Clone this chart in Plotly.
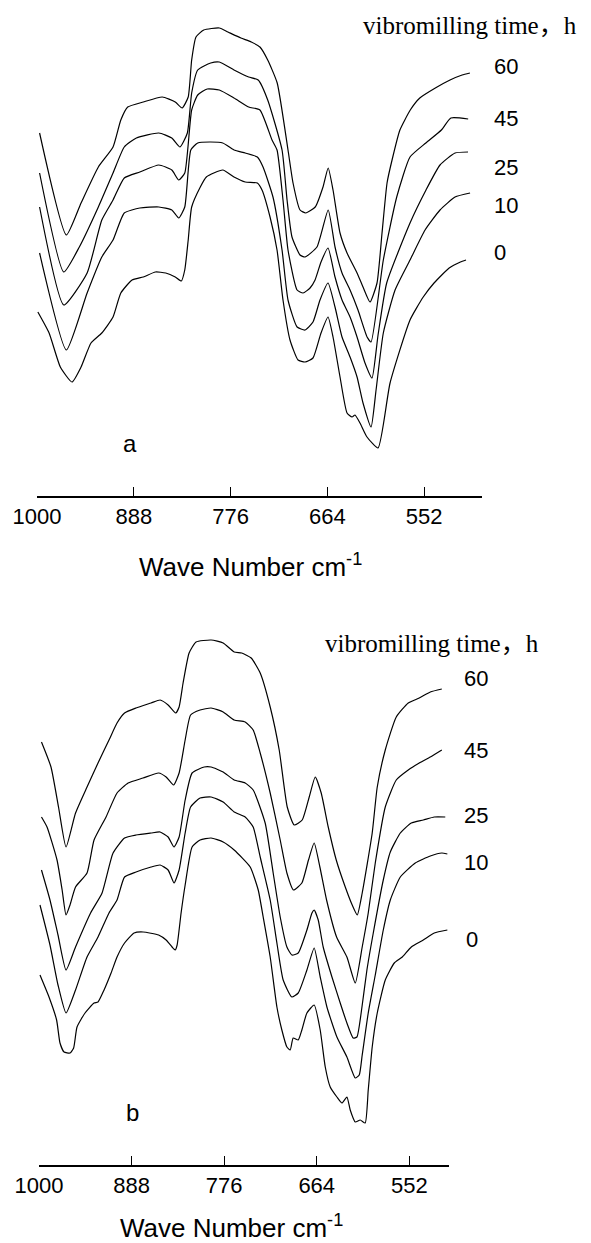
import plotly.graph_objects as go

W, H = 591, 1243

times = ["60", "45", "25", "10", "0"]
tick_vals = [1000, 888, 776, 664, 552]
tick_text = ["1000", "888", "776", "664", "552"]

# ---------------- panel a (transmittance, arbitrary offset units) ----------------
a60_wn = [997, 966, 949, 929, 912, 903, 895, 877, 855, 840, 832, 825, 821, 816, 807, 789, 779, 764, 752, 742,
          733, 722, 709.5, 703.7, 695.6, 689, 678, 669, 663, 657.4, 649.3, 641.2, 629.6, 622.7, 614.6, 606.5,
          600.7, 594.9, 589.1, 580, 568, 557, 539, 522, 508, 499]
a60_t = [363, 261, 293, 329, 349, 376, 389, 394, 399, 394, 388, 399, 436, 459, 466, 468, 464, 458, 454, 449,
         436, 413, 346, 313, 286, 283, 289, 309, 328, 306, 263, 243, 223, 209, 194, 213,
         263, 313, 336, 366, 386, 398, 408, 416, 421, 423]

a45_wn = [997, 969, 951, 929, 912, 899, 885, 859, 844, 834.5, 826, 821, 814, 799, 789, 772, 755, 744, 733, 716.4,
          710.6, 704.9, 695.6, 689.8, 676, 663, 655.1, 647, 637.7, 628.5, 618, 613.4, 599.2, 583.7, 568.3, 550,
          532, 521, 501]
a45_t = [323, 224, 249, 289, 323, 349, 358, 363, 358, 349, 363, 403, 426, 433, 434, 426, 419, 416, 396, 346,
         296, 259, 241, 239, 249, 286, 249, 223, 206, 186, 159, 154, 236, 299, 339, 353,
         366, 378, 377]

a25_wn = [997, 969, 942, 925, 912, 899, 881, 859, 844, 836, 829, 821, 814, 803, 789, 772, 755, 742, 728, 722.2,
          715.3, 709.5, 699, 692.1, 684, 678.2, 671.3, 663.2, 655.1, 647, 637.7, 629.6, 620.4, 612.3, 605.3,
          595.3, 568.3, 549.8, 533.6, 516.2, 501.2]
a25_t = [289, 191, 223, 276, 296, 318, 324, 331, 326, 316, 323, 386, 401, 407, 406, 398, 389, 386, 356, 346,
         296, 246, 206, 203, 208, 216, 234, 248, 219, 196, 179, 159, 133, 118, 161,
         213, 273, 306, 331, 343, 344]

a10_wn = [997, 966, 942, 925, 912, 899, 881, 859, 844, 836, 829, 822, 814, 799, 785, 772, 759, 745, 738.4, 726.9,
          716.4, 709.5, 699, 689.8, 680.6, 672.5, 663.2, 655.1, 647, 637.7, 629.6, 622.7, 613.4, 607.6, 599.2,
          585.6, 568.3, 550.9, 533.6, 516.2, 498.8]
a10_t = [243, 146, 203, 239, 256, 283, 288, 289, 286, 278, 289, 346, 353, 354, 353, 346, 343, 339, 329, 299,
         246, 196, 169, 166, 174, 196, 213, 189, 159, 139, 119, 93, 69, 106, 163,
         206, 236, 266, 286, 299, 303]

a0_wn = [999, 986, 973, 959.5, 949, 937.5, 925, 912, 903, 890, 877, 863, 851, 840, 833, 829, 825, 821, 811, 804,
         785, 772, 759, 745, 739.6, 730.3, 722.2, 715.3, 707.2, 697.9, 689.8, 680.6, 671.3, 663.2, 657.4, 649.3,
         641.2, 635.4, 632, 626.2, 618.1, 605.3, 591.4, 568.3, 553, 540.5, 523, 510, 503.5]
a0_t = [184, 163, 129, 114, 129, 153, 163, 179, 203, 216, 219, 224, 223, 219, 215, 226, 256, 289, 309, 319,
        326, 319, 314, 313, 306, 279, 246, 196, 156, 136, 134, 138, 163, 179, 159, 119,
        83, 79, 81, 73, 59, 48, 113, 176, 199, 213, 228, 234, 236]

# ---------------- panel b ----------------
b60_wn = [997, 985.5, 976.4, 967.3, 955.8, 941.9, 928.6, 915.3, 905.6, 896.5, 882.6, 864.4, 853.5, 843.8, 834.7,
          830.5, 825.7, 818.4, 810, 791.8, 777.2, 763.9, 754.8, 743.3, 732.4, 720.3, 709.4, 699.7, 691.3, 681.6,
          673.1, 665.8, 658.6, 650.1, 640.4, 629.5, 621.1, 615, 609, 596.9, 590.8, 581.1, 567.8, 553.3, 540,
          526.6, 512.7]
b60_t = [423, 398, 358, 318, 352, 378, 402, 425, 442, 452, 457, 462, 465, 460, 452, 458, 482, 512, 523, 525,
         522, 513, 512, 507, 492, 458, 415, 358, 340, 345, 368, 388, 372, 338, 305, 278, 260, 250, 272, 332,
         378, 415, 448, 462, 467, 473, 476]

b45_wn = [997, 990.3, 978.2, 972, 967.3, 962.5, 955.8, 941.9, 933.4, 918.9, 905.6, 892.2, 874.1, 855.3, 846.2,
          837.2, 830.5, 823.2, 816.6, 805.1, 791.8, 777.2, 763.9, 750.6, 740.9, 732.4, 720.3, 708.2, 700.1, 692.1,
          682, 674, 667.1, 660.2, 652.1, 640, 627.5, 617.4, 609, 601.7, 593.2, 581.1, 567.8, 553.3, 540,
          526.6, 512.7]
b45_t = [348, 338, 305, 275, 250, 260, 278, 292, 325, 348, 372, 382, 387, 392, 388, 380, 392, 425, 450, 455,
         457, 453, 445, 443, 435, 412, 372, 325, 292, 275, 282, 305, 322, 298, 265, 228, 208, 182, 218, 252,
         302, 358, 385, 395, 402, 408, 415]

b25_wn = [997, 986.7, 977, 967.3, 955.8, 937.6, 923.7, 910.4, 896.5, 882.6, 864.4, 853.5, 843.8, 836.6, 830.5,
          823.2, 814.8, 800.2, 791.8, 777.2, 763.9, 750.6, 740.9, 726.4, 716.7, 708.2, 700.1, 694.1, 686.4, 675.9,
          669.8, 667.1, 662.2, 656.2, 645.6, 635.6, 627.5, 619.9, 615.4, 609.3, 603.3, 595.6, 583.5, 575, 562.9,
          549.6, 535.1, 521.8, 508.5]
b25_t = [295, 265, 230, 195, 218, 252, 272, 312, 327, 330, 332, 333, 328, 318, 328, 365, 392, 398, 398, 393,
         385, 382, 375, 342, 292, 248, 218, 210, 212, 235, 252, 255, 245, 218, 188, 162, 142, 127, 128, 158,
         195, 232, 285, 313, 332, 342, 345, 348, 348]

b10_wn = [998.8, 986.7, 977, 967.3, 955.8, 941.9, 928.6, 915.3, 905.6, 896.5, 882.6, 864.4, 853.5, 843.8, 836.6,
          830.5, 823.2, 816.6, 805.1, 791.8, 777.2, 763.9, 750.6, 740.9, 732.4, 720.3, 712.2, 704.6, 694.1, 686.4,
          675.9, 667.1, 659.8, 651.7, 639.6, 627.5, 617.4, 612.6, 609, 601.7, 593.2, 583.5, 575, 562.9, 544.8,
          526.6, 512.7, 506]
b10_t = [260, 220, 180, 152, 175, 208, 228, 252, 265, 288, 293, 298, 300, 295, 282, 295, 332, 358, 367, 368,
         363, 353, 348, 338, 308, 265, 222, 185, 168, 172, 195, 217, 188, 158, 128, 108, 87, 90, 110, 152,
         190, 235, 265, 288, 302, 309, 312, 311]

b0_wn = [998.8, 987.9, 978.7, 974.6, 969.7, 962.5, 958.1, 954, 944.3, 933.4, 928.6, 921.3, 912.8, 905.6, 896.5,
         885, 874.1, 855.3, 846.2, 839, 835.3, 832.9, 828.1, 823.2, 814.8, 805.1, 791.8, 777.2, 763.9, 744.5,
         734.8, 728.8, 720.3, 712.2, 706.2, 700.1, 696.1, 692.5, 686.4, 682, 675.9, 667.1, 659.8, 653.7, 647.7,
         639.6, 633.5, 627.5, 623.5, 617.4, 611.4, 605.4, 601.7, 596.9, 590.8, 581.1, 570.2, 560.5, 549.6, 535.1,
         521.8, 506]
b0_t = [190, 168, 145, 122, 113, 112, 117, 138, 152, 162, 163, 175, 192, 208, 222, 232, 233, 230, 225, 218,
        215, 220, 252, 280, 318, 325, 327, 323, 315, 298, 275, 248, 208, 158, 135, 118, 115, 127, 125, 135,
        152, 160, 135, 98, 78, 68, 62, 68, 55, 43, 45, 42, 75, 118, 152, 185, 202, 208, 218, 225,
        232, 235]

panel_a = [(a60_wn, a60_t), (a45_wn, a45_t), (a25_wn, a25_t), (a10_wn, a10_t), (a0_wn, a0_t)]
panel_b = [(b60_wn, b60_t), (b45_wn, b45_t), (b25_wn, b25_t), (b10_wn, b10_t), (b0_wn, b0_t)]

fig = go.Figure()
line_style = dict(color="black", width=1.2, shape="spline", smoothing=0.5)
for (wn, t), name in zip(panel_a, times):
    fig.add_trace(go.Scatter(x=wn, y=t, mode="lines", line=line_style, name=name + " h",
                             xaxis="x", yaxis="y", showlegend=False, hoverinfo="skip"))
for (wn, t), name in zip(panel_b, times):
    fig.add_trace(go.Scatter(x=wn, y=t, mode="lines", line=line_style, name=name + " h",
                             xaxis="x2", yaxis="y2", showlegend=False, hoverinfo="skip"))


def px(x):
    return x / W


def py(y):
    return 1 - y / H


sans = "Liberation Sans, Arial, sans-serif"
serif = "Liberation Serif, Times New Roman, Noto Sans CJK SC, serif"

axis_common = dict(
    tickmode="array", tickvals=tick_vals, ticktext=tick_text,
    showline=True, linecolor="black", linewidth=1.5,
    ticks="inside", ticklen=9, tickwidth=1, tickcolor="black",
    showgrid=False, zeroline=False, automargin=False,
    tickfont=dict(family=sans, size=22, color="black"),
)

fig.update_layout(
    width=W, height=H, autosize=False,
    margin=dict(l=0, r=0, t=0, b=0, pad=0),
    paper_bgcolor="white", plot_bgcolor="white",
    showlegend=False,
    xaxis=dict(domain=[px(37), px(482)], range=[1000, 485], anchor="y", **axis_common),
    yaxis=dict(domain=[py(496), 1.0], range=[0, 496], visible=False, automargin=False),
    xaxis2=dict(domain=[px(39), px(449)], range=[1000, 504], anchor="y2", **axis_common),
    yaxis2=dict(domain=[py(1165), py(600)], range=[0, 565], visible=False, automargin=False),
)

ann = []
# legend header
ann.append(dict(text="vibromilling time，h", x=px(470), y=py(25), font=dict(family=serif, size=25, color="black")))
ann.append(dict(text="vibromilling time，h", x=px(432), y=py(643), font=dict(family=serif, size=25, color="black")))
# series labels
lab_a = [(506, 67), (506, 118), (506, 168), (506, 205), (500, 253)]
lab_b = [(476, 678), (476, 750), (476, 815), (476, 862), (472, 940)]
for name, (lx, ly) in zip(times, lab_a):
    ann.append(dict(text=name, x=px(lx), y=py(ly), font=dict(family=sans, size=22, color="black")))
for name, (lx, ly) in zip(times, lab_b):
    ann.append(dict(text=name, x=px(lx), y=py(ly), font=dict(family=sans, size=22, color="black")))
# panel letters
ann.append(dict(text="a", x=px(130), y=py(443), font=dict(family=sans, size=24, color="black")))
ann.append(dict(text="b", x=px(132), y=py(1112), font=dict(family=sans, size=24, color="black")))
# axis titles
ann.append(dict(text="Wave Number cm<sup>-1</sup>", x=px(250), y=py(565), font=dict(family=sans, size=26, color="black")))
ann.append(dict(text="Wave Number cm<sup>-1</sup>", x=px(232), y=py(1226), font=dict(family=sans, size=26, color="black")))

for a in ann:
    a.update(xref="paper", yref="paper", showarrow=False, xanchor="center", yanchor="middle")
fig.update_layout(annotations=ann)

fig.write_html("out.html")
